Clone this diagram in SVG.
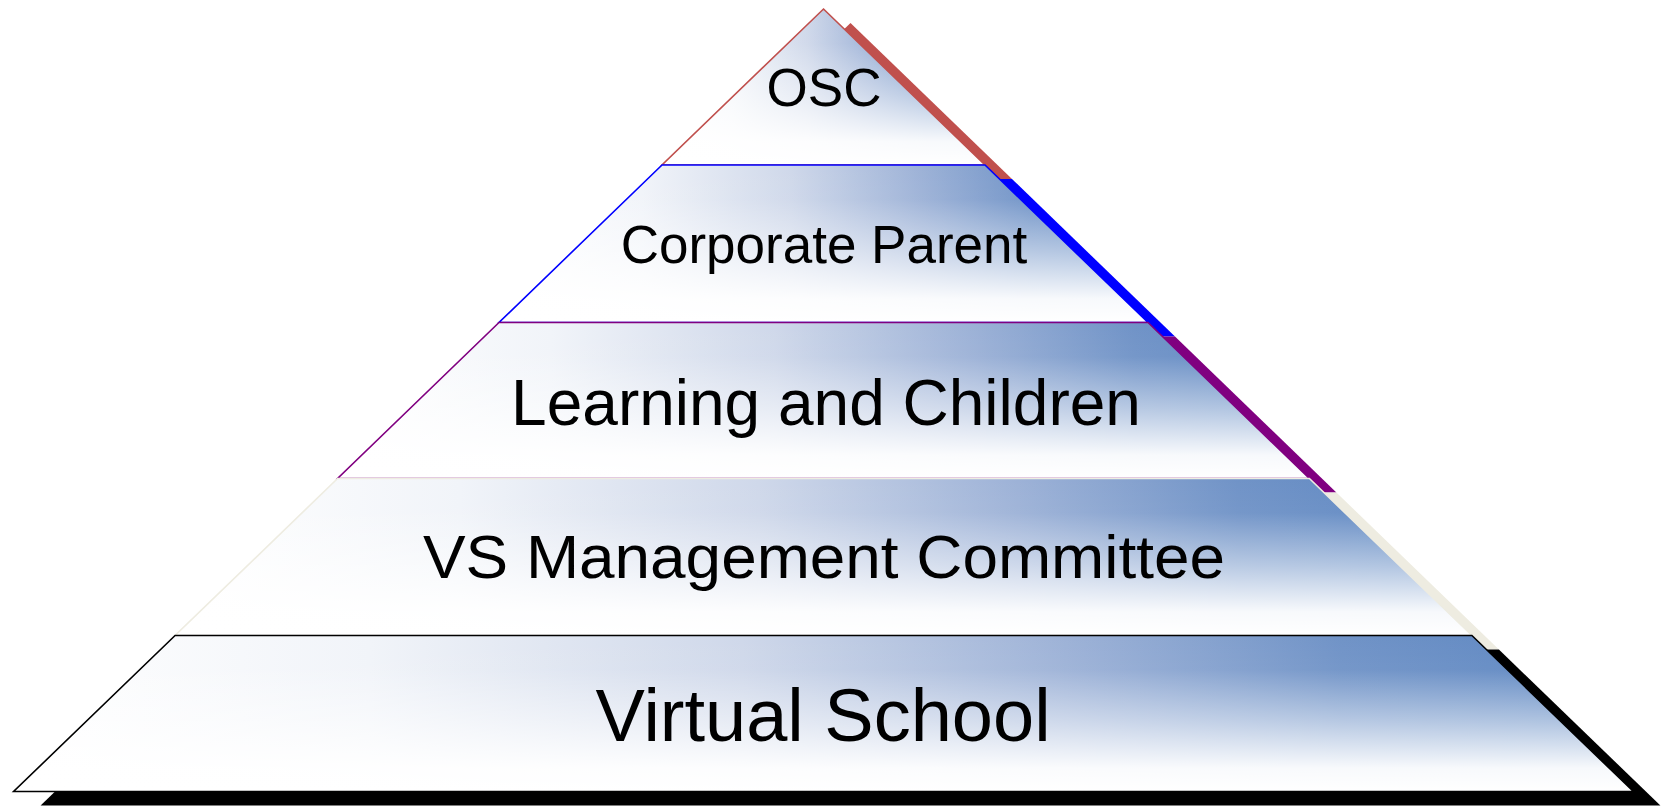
<svg xmlns="http://www.w3.org/2000/svg" xmlns:xlink="http://www.w3.org/1999/xlink" width="1665" height="806" viewBox="0 0 1665 806">
  <style>
    .lbl { font-family: "Liberation Sans", Arial, sans-serif; fill: #000000; text-anchor: middle; }
    .base { fill: url(#hgrad); }
    .over { fill: url(#vgrad); stroke-width: 1.6; stroke-linejoin: miter; }
  </style>
  <defs>
    <linearGradient id="hgrad" x1="0" y1="0" x2="1" y2="0">
      <stop offset="0" stop-color="#FFFFFF"/>
      <stop offset="0.22" stop-color="#F1F4F9"/>
      <stop offset="0.45" stop-color="#CFD8EA"/>
      <stop offset="0.65" stop-color="#9DB2D7"/>
      <stop offset="0.82" stop-color="#7093C7"/>
      <stop offset="1" stop-color="#5A85C1"/>
    </linearGradient>
    <linearGradient id="vgrad" x1="0" y1="0" x2="0" y2="1">
      <stop offset="0" stop-color="#FFFFFF" stop-opacity="0"/>
      <stop offset="0.22" stop-color="#FFFFFF" stop-opacity="0.04"/>
      <stop offset="0.55" stop-color="#FFFFFF" stop-opacity="0.5"/>
      <stop offset="0.85" stop-color="#FFFFFF" stop-opacity="0.95"/>
      <stop offset="1" stop-color="#FFFFFF" stop-opacity="1"/>
    </linearGradient>
    <path id="s1" d="M823.5,9 L985,165 L662,165 Z"/>
    <path id="s2" d="M662,165 L985,165 L1148,322.5 L499,322.5 Z"/>
    <path id="s3" d="M499,322.5 L1148,322.5 L1309.4,478.5 L337.6,478.5 Z"/>
    <path id="s4" d="M337.6,478.5 L1309.4,478.5 L1471.9,635.5 L175.1,635.5 Z"/>
    <path id="s5" d="M175.1,635.5 L1471.9,635.5 L1633.4,791.5 L13.6,791.5 Z"/>
  </defs>
  <rect x="0" y="0" width="1665" height="806" fill="#FFFFFF"/>

  <g id="tier-osc">
    <use xlink:href="#s1" href="#s1" transform="translate(27,14)" fill="#C0504D"/>
    <use xlink:href="#s1" href="#s1" class="base"/>
    <use xlink:href="#s1" href="#s1" class="over" stroke="#C0504D"/>
    <text class="lbl" x="824" y="106" font-size="53">OSC</text>
  </g>

  <g id="tier-corporate-parent">
    <use xlink:href="#s2" href="#s2" transform="translate(27,14)" fill="#0000FF"/>
    <use xlink:href="#s2" href="#s2" class="base"/>
    <use xlink:href="#s2" href="#s2" class="over" stroke="#0000FF"/>
    <text class="lbl" x="824" y="263" font-size="53">Corporate Parent</text>
  </g>

  <g id="tier-learning-children">
    <use xlink:href="#s3" href="#s3" transform="translate(27,14)" fill="#800080"/>
    <use xlink:href="#s3" href="#s3" class="base"/>
    <use xlink:href="#s3" href="#s3" class="over" stroke="#800080"/>
    <text class="lbl" x="826" y="425" font-size="64">Learning and Children</text>
  </g>

  <g id="tier-vs-management">
    <use xlink:href="#s4" href="#s4" transform="translate(27,14)" fill="#EEECE1"/>
    <use xlink:href="#s4" href="#s4" class="base"/>
    <use xlink:href="#s4" href="#s4" class="over" stroke="#EEECE1"/>
    <text class="lbl" x="824" y="578" font-size="62" textLength="802" lengthAdjust="spacingAndGlyphs">VS Management Committee</text>
  </g>

  <g id="tier-virtual-school">
    <use xlink:href="#s5" href="#s5" transform="translate(27,14)" fill="#000000"/>
    <use xlink:href="#s5" href="#s5" class="base"/>
    <use xlink:href="#s5" href="#s5" class="over" stroke="#000000"/>
    <text class="lbl" x="823" y="741" font-size="74">Virtual School</text>
  </g>

  <g id="connectors"/>
</svg>
